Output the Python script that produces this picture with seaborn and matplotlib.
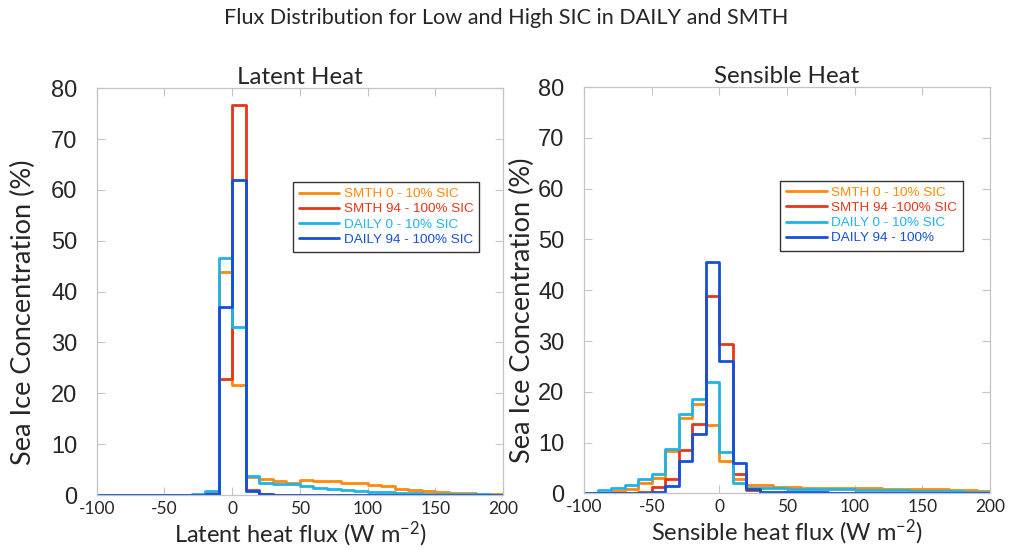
import numpy as np
import pandas as pd
import seaborn as sns
import matplotlib.pyplot as plt

# histogram bins (W m-2), 10 W m-2 wide from -100 to 200
bin_edges = np.arange(-100, 201, 10)
bin_centers = bin_edges[:-1] + 5

# Latent heat: percentage per bin
lh_smth_low = [0, 0, 0, 0, 0, 0, 0, 0, 0.3, 43.9, 21.6, 3.6, 3.2, 2.85, 2.45,
               2.9, 2.8, 2.75, 2.35, 2.3, 1.9, 1.7, 1.25, 1.0, 0.75, 0.5, 0.35, 0.3, 0.2, 0.15]
lh_smth_high = [0, 0, 0, 0, 0, 0, 0, 0, 0.2, 22.8, 76.8, 0.9, 0.1, 0.05, 0.05,
                0, 0, 0, 0, 0, 0, 0, 0, 0, 0, 0, 0, 0, 0, 0]
lh_daily_low = [0, 0, 0, 0, 0, 0, 0, 0.1, 0.85, 46.6, 33.1, 3.8, 2.3, 2.1, 2.1,
                1.8, 1.4, 1.2, 0.95, 0.8, 0.55, 0.5, 0.35, 0.3, 0.25, 0.2, 0.15, 0.1, 0.1, 0.05]
lh_daily_high = [0, 0, 0, 0, 0, 0, 0, 0, 0.15, 37.0, 62.0, 0.7, 0.1, 0.05, 0.05,
                 0.05, 0.05, 0.05, 0.05, 0.05, 0.05, 0.05, 0.05, 0.05, 0.05, 0.05, 0.05, 0.05, 0.05, 0.05]

# Sensible heat: percentage per bin
sh_smth_low = [0, 0.1, 0.4, 0.85, 2.0, 3.0, 8.3, 14.8, 17.5, 13.4, 6.4, 2.8, 1.6, 1.6, 1.3,
               1.2, 1.15, 1.1, 1.1, 1.1, 1.05, 1.0, 0.95, 0.9, 0.9, 0.85, 0.8, 0.7, 0.6, 0.5]
sh_smth_high = [0, 0, 0, 0.05, 0.2, 1.2, 2.9, 8.5, 13.6, 38.9, 29.4, 3.9, 0.65, 0.05, 0,
                0, 0, 0, 0, 0, 0, 0, 0, 0, 0, 0, 0, 0, 0, 0]
sh_daily_low = [0.1, 0.65, 1.0, 1.7, 2.8, 3.9, 8.7, 15.6, 18.5, 21.9, 8.1, 2.0, 1.1, 1.0, 1.0,
                0.95, 0.9, 0.85, 0.8, 0.8, 0.75, 0.7, 0.65, 0.6, 0.55, 0.5, 0.45, 0.4, 0.35, 0.3]
sh_daily_high = [0, 0, 0, 0, 0.1, 0.3, 1.45, 6.4, 11.6, 45.5, 26.1, 6.0, 0.8, 0.2, 0.2,
                 0.2, 0.2, 0.2, 0.15, 0.15, 0.15, 0.15, 0.15, 0.1, 0.1, 0.1, 0.1, 0.1, 0.1, 0.1]

lh_labels = ["SMTH 0 - 10% SIC", "SMTH 94 - 100% SIC", "DAILY 0 - 10% SIC", "DAILY 94 - 100% SIC"]
sh_labels = ["SMTH 0 - 10% SIC", "SMTH 94 -100% SIC", "DAILY 0 - 10% SIC", "DAILY 94 - 100%"]
colors = ["#ff8a0a", "#e5361a", "#1fb4e8", "#1450d8"]

x_ticks = [-100, -50, 0, 50, 100, 150, 200]
y_ticks = [0, 10, 20, 30, 40, 50, 60, 70, 80]

sns.set_theme(style="ticks")
plt.rcParams["font.family"] = ["Lato", "DejaVu Sans"]
plt.rcParams["mathtext.default"] = "regular"

fig = plt.figure(figsize=(10.12, 5.5), dpi=100)
ax1 = fig.add_axes([0.0956, 0.100, 0.4015, 0.7395])
ax2 = fig.add_axes([0.5771, 0.103, 0.4012, 0.7385])

panels = [
    (ax1, [lh_smth_low, lh_smth_high, lh_daily_low, lh_daily_high], lh_labels,
     "Latent Heat", "Latent heat flux (W m$^{-2}$)", -0.149),
    (ax2, [sh_smth_low, sh_smth_high, sh_daily_low, sh_daily_high], sh_labels,
     "Sensible Heat", "Sensible heat flux (W m$^{-2}$)", -0.121),
]

for ax, series, labels, title, xlabel, ylab_x in panels:
    for vals, lab, col in zip(series, labels, colors):
        df = pd.DataFrame({"flux": bin_centers, "pct": vals})
        sns.histplot(data=df, x="flux", weights="pct", binwidth=10, binrange=(-100, 200),
                     element="step", fill=False, color=col, linewidth=2.0, label=lab, ax=ax)
    ax.set_xlim(-100, 200)
    ax.set_ylim(0, 80)
    ax.set_xticks(x_ticks)
    ax.set_yticks(y_ticks)
    ax.set_xticklabels([str(t) for t in x_ticks], fontsize=12.5)
    ax.set_yticklabels([str(t) for t in y_ticks], fontsize=17, family=["Liberation Sans"])
    ax.tick_params(axis="both", direction="in", top=True, right=True, length=6,
                   width=0.8, color="#c4c4c4")
    ax.tick_params(axis="y", pad=14)
    ax.tick_params(axis="x", pad=4)
    for sp in ax.spines.values():
        sp.set_color("#c4c4c4")
        sp.set_linewidth(0.9)
    ax.set_title(title, fontsize=17.4, pad=3)
    ax.set_xlabel(xlabel, fontsize=17, labelpad=2)
    ax.set_ylabel("Sea Ice Concentration (%)", fontsize=19.5)
    ax.yaxis.set_label_coords(ylab_x, 0.45)
    leg = ax.legend(loc="upper left", bbox_to_anchor=(0.483, 0.770), borderaxespad=0,
                    fancybox=False, framealpha=1, edgecolor="#333333",
                    prop={"family": "Liberation Sans", "size": 9.7},
                    labelcolor="linecolor", handlelength=3.0, handletextpad=0.3,
                    labelspacing=0.2, borderpad=0.45)
    leg.get_frame().set_linewidth(1.0)

fig.suptitle("Flux Distribution for Low and High SIC in DAILY and SMTH", fontsize=15.6, y=0.985)

plt.savefig("out.png", dpi=100)
